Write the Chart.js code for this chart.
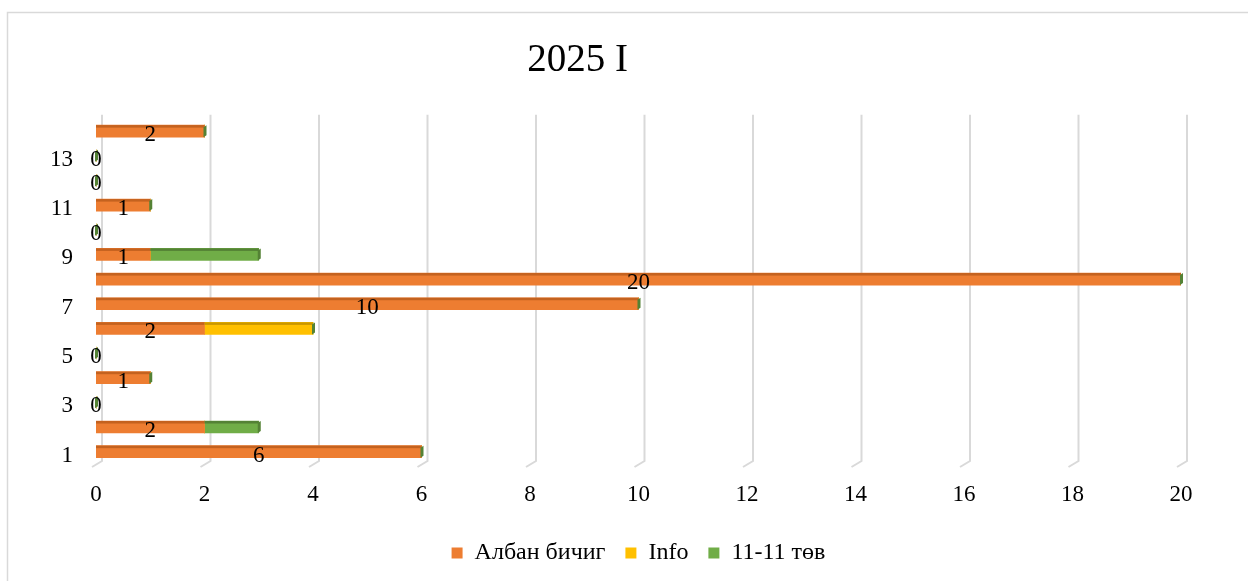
<!DOCTYPE html>
<html>
<head>
<meta charset="utf-8">
<title>2025 I</title>
<script src="https://cdn.jsdelivr.net/npm/chart.js@4/dist/chart.umd.min.js"></script>
<style>
  html, body { margin: 0; padding: 0; background: #fff; }
  #wrap { width: 1248px; height: 581px; }
</style>
</head>
<body>
<div id="wrap"><canvas id="chart" width="1248" height="581"></canvas></div>
<script>
// data
const categories = ["1", "2", "3", "4", "5", "6", "7", "8", "9", "10", "11", "12", "13", "14"];
const albanBichig = [6, 2, 0, 1, 0, 2, 10, 20, 1, 0, 1, 0, 0, 2];
const info = [0, 0, 0, 0, 0, 2, 0, 0, 0, 0, 0, 0, 0, 0];
const tov = [0, 1, 0, 0, 0, 0, 0, 0, 2, 0, 0, 0, 0, 0];
const xTicks = [0, 2, 4, 6, 8, 10, 12, 14, 16, 18, 20];

const serif = "'Liberation Serif', 'Times New Roman', serif";
const colors = ["#ED7D31", "#FFC000", "#70AD47"];
const topShade = ["#C4621F", "#C99700", "#548235"];

// outer frame of the chart, like the Excel chart border
const framePlugin = {
    id: "frame",
    beforeDraw(chart) {
        const ctx = chart.ctx;
        ctx.save();
        ctx.fillStyle = "#fff";
        ctx.fillRect(0, 0, chart.width, chart.height);
        ctx.strokeStyle = "#d9d9d9";
        ctx.lineWidth = 1.5;
        ctx.strokeRect(7.5, 12.5, chart.width + 10, chart.height + 10);
        ctx.restore();
    },
    // Excel centres title and legend a bit differently than Chart.js
    afterLayout(chart) {
        if (chart.titleBlock) {
            chart.titleBlock.left -= 13;
            chart.titleBlock.right -= 13;
        }
        if (chart.legend) {
            chart.legend.left += 48;
            chart.legend.right += 48;
        }
    }
};

// vertical gridlines drawn with the small 3D offset and floor foot
const gridPlugin = {
    id: "grid3d",
    beforeDatasetsDraw(chart) {
        const ctx = chart.ctx;
        const x = chart.scales.x;
        const area = chart.chartArea;
        ctx.save();
        ctx.strokeStyle = "#d9d9d9";
        ctx.lineWidth = 2;
        xTicks.forEach(v => {
            const px = x.getPixelForValue(v) + 6;
            ctx.beginPath();
            ctx.moveTo(px, area.top - 4);
            ctx.lineTo(px, area.bottom - 3);
            ctx.lineTo(px - 10, area.bottom + 3);
            ctx.stroke();
        });
        ctx.restore();
    }
};

// top shading, end caps and value labels of the first series
const barDecor = {
    id: "barDecor",
    afterDatasetsDraw(chart) {
        const ctx = chart.ctx;
        const x = chart.scales.x;
        ctx.save();
        chart.data.datasets.forEach((ds, di) => {
            chart.getDatasetMeta(di).data.forEach(el => {
                const w = el.x - el.base;
                if (w <= 0) return;
                const top = el.y - el.height / 2;
                ctx.fillStyle = topShade[di];
                ctx.fillRect(el.base, top, w, 2.5);
            });
        });
        // end cap at the end of each stack
        const meta0 = chart.getDatasetMeta(0);
        categories.forEach((c, i) => {
            const total = albanBichig[i] + info[i] + tov[i];
            const px = x.getPixelForValue(total);
            const el = meta0.data[i];
            const top = el.y - el.height / 2;
            const bottom = el.y + el.height / 2;
            ctx.fillStyle = "#548235";
            ctx.beginPath();
            ctx.moveTo(px - 1, top + 2);
            ctx.lineTo(px + 2, top);
            ctx.lineTo(px + 2, bottom - 2);
            ctx.lineTo(px - 1, bottom);
            ctx.closePath();
            ctx.fill();
        });
        // data labels
        ctx.fillStyle = "#000";
        ctx.font = "23px " + serif;
        ctx.textAlign = "center";
        ctx.textBaseline = "middle";
        meta0.data.forEach((el, i) => {
            ctx.fillText(String(albanBichig[i]), (el.base + el.x) / 2, el.y + 4);
        });
        ctx.restore();
    }
};

new Chart(document.getElementById("chart"), {
    type: "bar",
    data: {
        labels: categories,
        datasets: [
            { label: "Албан бичиг", data: albanBichig, backgroundColor: colors[0] },
            { label: "Info", data: info, backgroundColor: colors[1] },
            { label: "11-11 төв", data: tov, backgroundColor: colors[2] }
        ]
    },
    options: {
        indexAxis: "y",
        responsive: false,
        animation: false,
        barThickness: 12,
        layout: { padding: { left: 0, right: 67, top: 0, bottom: 6 } },
        scales: {
            x: {
                stacked: true,
                min: 0,
                max: 20,
                grid: { display: false, drawTicks: false },
                border: { display: false },
                ticks: {
                    stepSize: 2,
                    padding: 17,
                    color: "#000",
                    font: { family: serif, size: 23 }
                },
                afterFit(scale) { scale.height = 57; }
            },
            y: {
                stacked: true,
                reverse: true,
                grid: { display: false, drawTicks: false },
                border: { display: false },
                ticks: {
                    autoSkip: false,
                    padding: 23,
                    labelOffset: 4,
                    color: "#000",
                    font: { family: serif, size: 23 },
                    callback(value, index) {
                        return index % 2 === 0 ? categories[index] : "";
                    }
                },
                afterFit(scale) { scale.width = 96; }
            }
        },
        plugins: {
            title: {
                display: true,
                text: "2025 I",
                color: "#000",
                font: { family: serif, size: 39, weight: "normal" },
                padding: { top: 37, bottom: 35 }
            },
            legend: {
                position: "bottom",
                labels: {
                    boxWidth: 11,
                    boxHeight: 11,
                    padding: 20,
                    color: "#000",
                    font: { family: serif, size: 24 }
                }
            },
            tooltip: { enabled: false }
        }
    },
    plugins: [framePlugin, gridPlugin, barDecor]
});
</script>
</body>
</html>
